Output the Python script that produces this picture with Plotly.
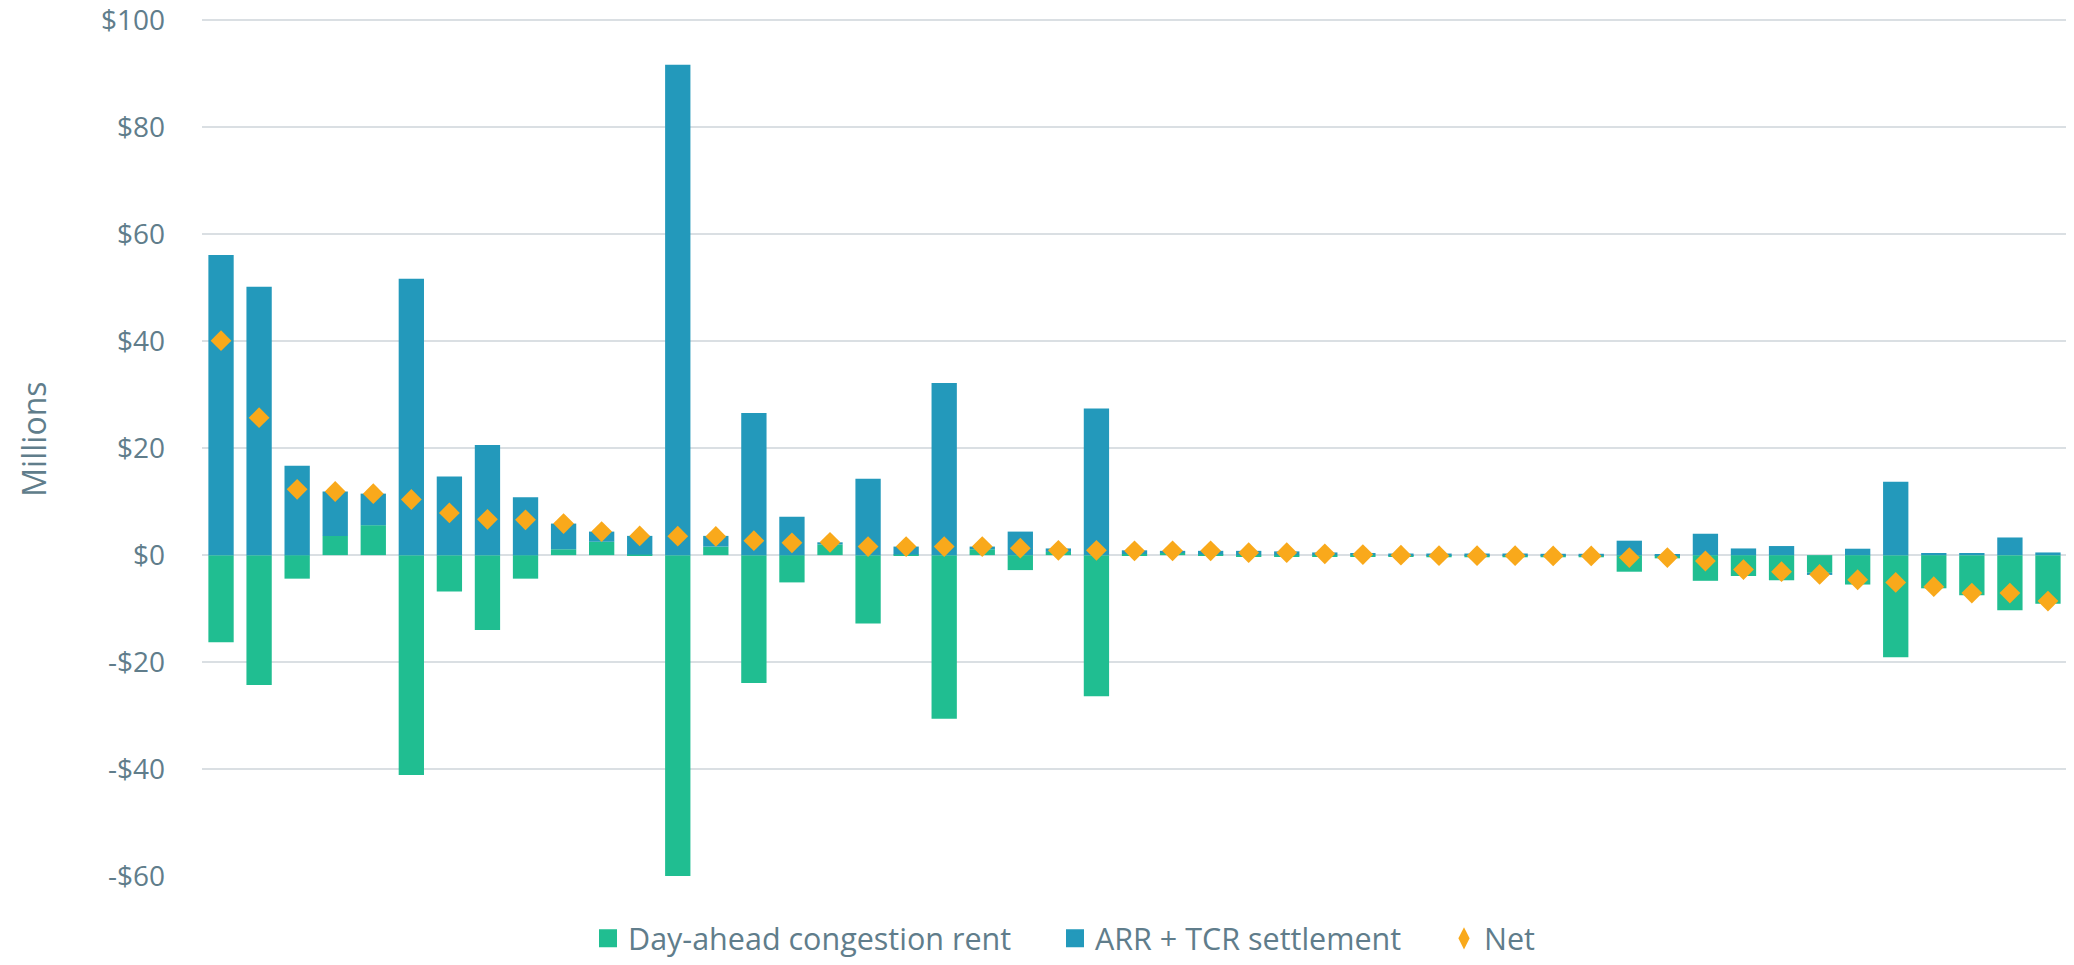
import plotly.graph_objects as go

# Categories (constraints, ranked by net value; no labels shown on the chart)
categories = [f"C{i}" for i in range(1, 50)]

# Day-ahead congestion rent ($ millions)
da_congestion_rent = [
    -16.3, -24.3, -4.4, 3.6, 5.6, -41.1, -6.8, -14.0, -4.4, 1.1,
    2.5, 0.1, -88.2, 1.6, -23.9, -5.1, 2.0, -12.8, 0.1, -30.6,
    1.1, -2.8, 0.6, -26.4, 0.2, 0.4, 0.1, -0.3, -0.2, -0.2,
    -0.3, -0.3, -0.4, -0.4, -0.4, -0.4, -0.4, -3.1, -0.6, -4.8,
    -3.9, -4.7, -3.3, -5.5, -19.1, -6.2, -7.5, -10.3, -9.1,
]

# ARR + TCR settlement ($ millions)
arr_tcr_settlement = [
    56.1, 50.2, 16.7, 8.3, 5.9, 51.7, 14.7, 20.6, 10.8, 4.8,
    1.9, 3.5, 91.7, 2.0, 26.6, 7.2, 0.4, 14.3, 1.5, 32.2,
    0.5, 4.4, 0.65, 27.4, 0.7, 0.4, 0.7, 0.8, 0.7, 0.5,
    0.4, 0.3, 0.3, 0.3, 0.3, 0.25, 0.25, 2.7, 0.2, 4.0,
    1.25, 1.7, -0.4, 1.2, 13.7, 0.4, 0.4, 3.3, 0.5,
]

# Net ($ millions)
net = [
    40.1, 25.7, 12.3, 11.9, 11.5, 10.4, 7.9, 6.7, 6.6, 5.9,
    4.4, 3.6, 3.55, 3.5, 2.7, 2.3, 2.4, 1.6, 1.6, 1.6,
    1.6, 1.3, 0.9, 0.9, 0.8, 0.8, 0.8, 0.45, 0.45, 0.25,
    0.1, 0.0, -0.1, -0.1, -0.1, -0.15, -0.15, -0.45, -0.45, -1.1,
    -2.7, -3.1, -3.6, -4.6, -5.1, -5.9, -7.1, -7.1, -8.6,
]

series_names = ["Day-ahead congestion rent", "ARR + TCR settlement", "Net"]
tick_values = [-60, -40, -20, 0, 20, 40, 60, 80, 100]
tick_labels = ["-$60", "-$40", "-$20", "$0", "$20", "$40", "$60", "$80", "$100"]

GREEN = "#20BE91"
BLUE = "#2399BB"
ORANGE = "#F9A91B"
TEXT = "#607D8B"
GRID = "#DADFE3"
FONT = "Open Sans"

W, H = 2066, 957

fig = go.Figure()
fig.add_trace(go.Bar(
    x=categories, y=da_congestion_rent, name=series_names[0],
    marker=dict(color=GREEN, line=dict(width=0)), showlegend=False,
))
fig.add_trace(go.Bar(
    x=categories, y=arr_tcr_settlement, name=series_names[1],
    marker=dict(color=BLUE, line=dict(width=0)), showlegend=False,
))
fig.add_trace(go.Scatter(
    x=categories, y=net, name=series_names[2], mode="markers",
    marker=dict(symbol="diamond", size=16, color=ORANGE, line=dict(width=0)),
    showlegend=False,
))

# Legend entries (one legend each, so spacing matches the original)
legend_symbols = [("square", GREEN, 2, "legend"), ("square", BLUE, 2, "legend2"),
                  ("diamond-tall", ORANGE, 0, "legend3")]
for name, (sym, col, lw, lg) in zip(series_names, legend_symbols):
    fig.add_trace(go.Scatter(
        x=[None], y=[None], mode="markers", name=name, legend=lg,
        marker=dict(symbol=sym, size=16, color=col, line=dict(width=lw, color=col)),
        showlegend=True,
    ))

legend_style = dict(
    orientation="h", xref="container", yref="container",
    yanchor="bottom", y=0, xanchor="left",
    font=dict(family=FONT, size=30.5, color=TEXT),
    bgcolor="rgba(0,0,0,0)", borderwidth=0, itemsizing="trace",
)

fig.update_layout(
    width=W, height=H,
    barmode="relative",
    bargap=0.335,
    plot_bgcolor="white",
    paper_bgcolor="white",
    margin=dict(l=194, r=7, t=7, b=89, autoexpand=False),
    font=dict(family=FONT, size=28, color=TEXT),
    showlegend=True,
    legend=dict(legend_style, x=580 / W),
    legend2=dict(legend_style, x=1047 / W),
    legend3=dict(legend_style, x=1436 / W),
    xaxis=dict(
        range=[-0.5, 48.5],
        showticklabels=False, showgrid=False, zeroline=False,
        showline=False, ticks="",
    ),
    yaxis=dict(
        range=[-60, 101],
        tickvals=tick_values, ticktext=tick_labels,
        showgrid=True, gridcolor=GRID, gridwidth=2,
        zeroline=True, zerolinecolor=GRID, zerolinewidth=2,
        showline=False, ticks="",
        tickfont=dict(family=FONT, size=28, color=TEXT),
        ticklabelstandoff=36,
        ticklabeloverflow="allow",
    ),
    annotations=[dict(
        text="Millions", xref="paper", yref="paper",
        x=-0.0905, y=0.507, xanchor="center", yanchor="middle",
        textangle=-90, showarrow=False,
        font=dict(family=FONT, size=32, color=TEXT),
    )],
)

fig.write_html("out.html")
